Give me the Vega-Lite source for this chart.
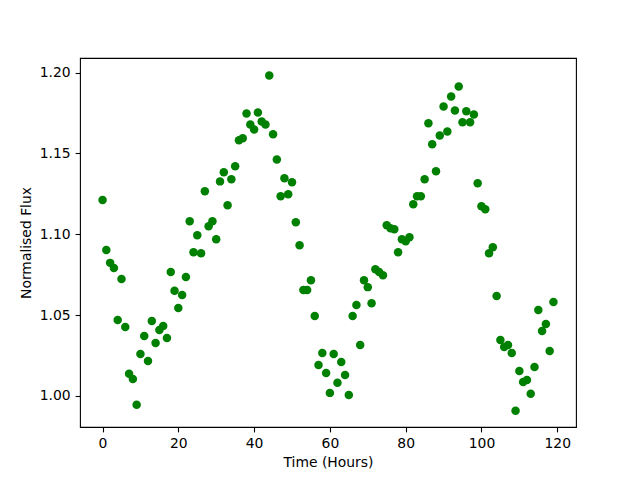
{
  "$schema": "https://vega.github.io/schema/vega-lite/v6.json",
  "autosize": "none",
  "padding": {"left": 80, "top": 58, "right": 64, "bottom": 53},
  "width": 496,
  "height": 369,
  "background": "white",
  "config": {
    "view": {"stroke": "#000000", "strokeWidth": 1.1},
    "axis": {
      "domain": false,
      "grid": false,
      "tickColor": "#000000",
      "tickSize": 4.9,
      "tickWidth": 1.1,
      "labelFont": "DejaVu Sans",
      "labelFontSize": 13.9,
      "labelColor": "#000000",
      "labelPadding": 4.9,
      "titleFont": "DejaVu Sans",
      "titleFontSize": 13.9,
      "titleFontWeight": "normal",
      "titleColor": "#000000"
    }
  },
  "data": {
    "values": [
      {"t": 0, "f": 1.1212}, {"t": 1, "f": 1.0903}, {"t": 2, "f": 1.0823}, {"t": 3, "f": 1.0792},
      {"t": 4, "f": 1.0469}, {"t": 5, "f": 1.0723}, {"t": 6, "f": 1.0426}, {"t": 7, "f": 1.0138},
      {"t": 8, "f": 1.0105}, {"t": 9, "f": 0.9945}, {"t": 10, "f": 1.026}, {"t": 11, "f": 1.0371},
      {"t": 12, "f": 1.0216}, {"t": 13, "f": 1.0463}, {"t": 14, "f": 1.0327}, {"t": 15, "f": 1.0408},
      {"t": 16, "f": 1.0432}, {"t": 17, "f": 1.0358}, {"t": 18, "f": 1.0766}, {"t": 19, "f": 1.065},
      {"t": 20, "f": 1.0544}, {"t": 21, "f": 1.0624}, {"t": 22, "f": 1.0735}, {"t": 23, "f": 1.1081},
      {"t": 24, "f": 1.0889}, {"t": 25, "f": 1.0994}, {"t": 26, "f": 1.0883}, {"t": 27, "f": 1.1266},
      {"t": 28, "f": 1.105}, {"t": 29, "f": 1.1081}, {"t": 30, "f": 1.0969}, {"t": 31, "f": 1.1327},
      {"t": 32, "f": 1.1383}, {"t": 33, "f": 1.1179}, {"t": 34, "f": 1.134}, {"t": 35, "f": 1.142},
      {"t": 36, "f": 1.1581}, {"t": 37, "f": 1.1593}, {"t": 38, "f": 1.1747}, {"t": 39, "f": 1.1679},
      {"t": 40, "f": 1.1648}, {"t": 41, "f": 1.1753}, {"t": 42, "f": 1.1698}, {"t": 43, "f": 1.1679},
      {"t": 44, "f": 1.1982}, {"t": 45, "f": 1.1618}, {"t": 46, "f": 1.1463}, {"t": 47, "f": 1.1235},
      {"t": 48, "f": 1.1346}, {"t": 49, "f": 1.1247}, {"t": 50, "f": 1.1321}, {"t": 51, "f": 1.1074},
      {"t": 52, "f": 1.0932}, {"t": 53, "f": 1.0655}, {"t": 54, "f": 1.0655}, {"t": 55, "f": 1.0716},
      {"t": 56, "f": 1.0494}, {"t": 57, "f": 1.0192}, {"t": 58, "f": 1.0266}, {"t": 59, "f": 1.0142},
      {"t": 60, "f": 1.0019}, {"t": 61, "f": 1.026}, {"t": 62, "f": 1.0081}, {"t": 63, "f": 1.021},
      {"t": 64, "f": 1.013}, {"t": 65, "f": 1.0006}, {"t": 66, "f": 1.0494}, {"t": 67, "f": 1.0562},
      {"t": 68, "f": 1.0315}, {"t": 69, "f": 1.0716}, {"t": 70, "f": 1.0673}, {"t": 71, "f": 1.0574},
      {"t": 72, "f": 1.0784}, {"t": 73, "f": 1.0766}, {"t": 74, "f": 1.0747}, {"t": 75, "f": 1.1056},
      {"t": 76, "f": 1.1037}, {"t": 77, "f": 1.1031}, {"t": 78, "f": 1.0889}, {"t": 79, "f": 1.0969},
      {"t": 80, "f": 1.0957}, {"t": 81, "f": 1.0982}, {"t": 82, "f": 1.1186}, {"t": 83, "f": 1.1235},
      {"t": 84, "f": 1.1235}, {"t": 85, "f": 1.134}, {"t": 86, "f": 1.1686}, {"t": 87, "f": 1.1556},
      {"t": 88, "f": 1.1389}, {"t": 89, "f": 1.1611}, {"t": 90, "f": 1.179}, {"t": 91, "f": 1.1636},
      {"t": 92, "f": 1.1852}, {"t": 93, "f": 1.1766}, {"t": 94, "f": 1.1914}, {"t": 95, "f": 1.1692},
      {"t": 96, "f": 1.176}, {"t": 97, "f": 1.1692}, {"t": 98, "f": 1.1741}, {"t": 99, "f": 1.1315},
      {"t": 100, "f": 1.1173}, {"t": 101, "f": 1.1155}, {"t": 102, "f": 1.0883}, {"t": 103, "f": 1.092},
      {"t": 104, "f": 1.0618}, {"t": 105, "f": 1.0346}, {"t": 106, "f": 1.0303}, {"t": 107, "f": 1.0315},
      {"t": 108, "f": 1.0266}, {"t": 109, "f": 0.9908}, {"t": 110, "f": 1.0155}, {"t": 111, "f": 1.0087},
      {"t": 112, "f": 1.0099}, {"t": 113, "f": 1.0013}, {"t": 114, "f": 1.0179}, {"t": 115, "f": 1.0531},
      {"t": 116, "f": 1.0402}, {"t": 117, "f": 1.0445}, {"t": 118, "f": 1.0278}, {"t": 119, "f": 1.0581}
    ]
  },
  "mark": {"type": "point", "filled": true, "color": "#008000", "opacity": 1, "size": 72},
  "encoding": {
    "x": {
      "field": "t",
      "type": "quantitative",
      "scale": {"domain": [-5.95, 124.95], "nice": false, "zero": false},
      "axis": {"values": [0, 20, 40, 60, 80, 100, 120], "title": "Time (Hours)", "titlePadding": 5}
    },
    "y": {
      "field": "f",
      "type": "quantitative",
      "scale": {"domain": [0.9808, 1.209], "nice": false, "zero": false},
      "axis": {"values": [1.0, 1.05, 1.1, 1.15, 1.2], "format": ".2f", "title": "Normalised Flux", "titlePadding": 6}
    }
  }
}
